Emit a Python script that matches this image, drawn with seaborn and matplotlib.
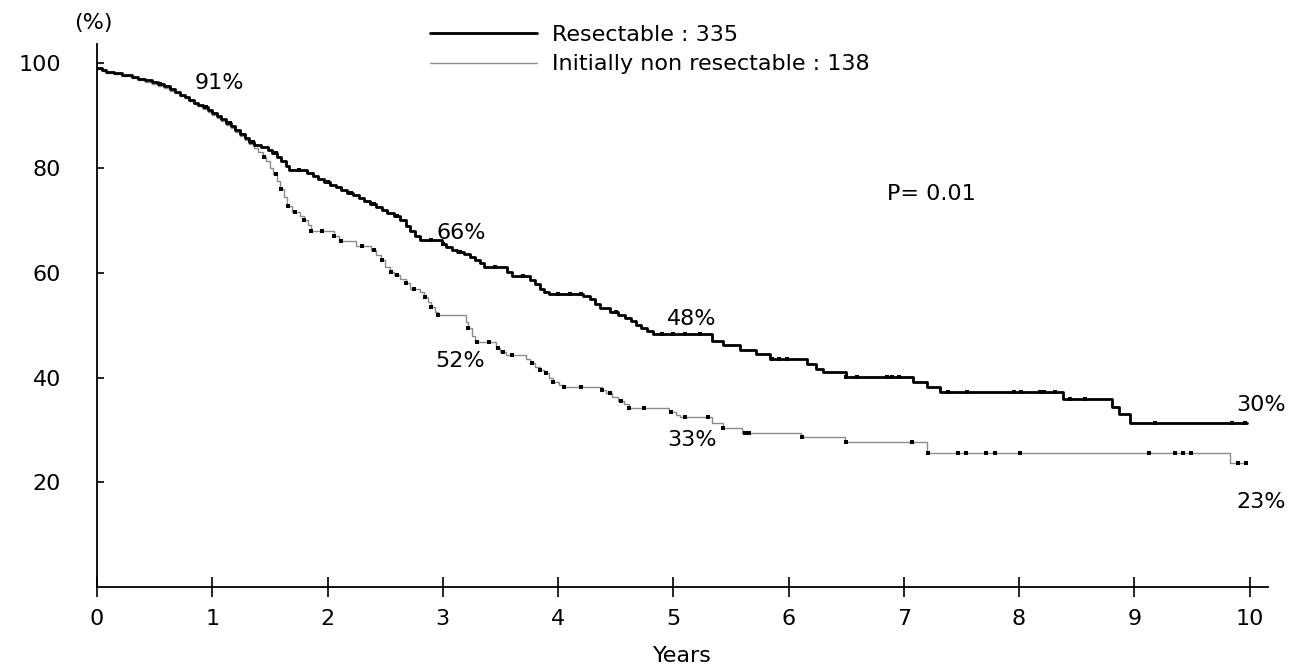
import numpy as np
import pandas as pd
import matplotlib
matplotlib.use("Agg")
import matplotlib.pyplot as plt
import seaborn as sns

# ---------------- data ----------------
res_t = [0.00, 0.04, 0.08, 0.15, 0.22, 0.30, 0.36, 0.42, 0.48, 0.53, 0.58, 0.63,
         0.68, 0.72, 0.76, 0.80, 0.84, 0.88, 0.92, 0.96, 1.00, 1.04, 1.08, 1.12,
         1.16, 1.20, 1.24, 1.28, 1.32, 1.36, 1.42, 1.48, 1.52, 1.56, 1.60, 1.64,
         1.67, 1.82, 1.87, 1.92, 1.97, 2.02, 2.07, 2.12, 2.17, 2.22, 2.27, 2.32,
         2.37, 2.42, 2.47, 2.52, 2.58, 2.63, 2.68, 2.72, 2.76, 2.80, 2.99, 3.03,
         3.08, 3.12, 3.18, 3.24, 3.28, 3.32, 3.36, 3.56, 3.60, 3.76, 3.80, 3.84,
         3.88, 3.92, 4.22, 4.28, 4.32, 4.36, 4.45, 4.52, 4.58, 4.63, 4.68, 4.72,
         4.77, 4.82, 5.34, 5.43, 5.58, 5.72, 5.84, 6.16, 6.24, 6.30, 6.50, 7.08,
         7.20, 7.31, 8.38, 8.81, 8.87, 8.96, 9.98]
res_s = [99.2, 98.8, 98.4, 98.1, 97.8, 97.4, 97.1, 96.8, 96.4, 96.0, 95.6, 95.1,
         94.6, 94.0, 93.5, 93.0, 92.5, 92.0, 91.6, 91.1, 90.5, 89.9, 89.3, 88.6,
         88.0, 87.3, 86.6, 85.8, 85.0, 84.4, 84.0, 83.5, 82.9, 82.2, 81.3, 80.4,
         79.6, 79.0, 78.4, 77.9, 77.3, 76.8, 76.3, 75.8, 75.3, 74.8, 74.3, 73.8,
         73.2, 72.6, 72.0, 71.5, 70.8, 70.0, 69.0, 68.0, 67.0, 66.2, 65.5, 65.0,
         64.4, 63.9, 63.5, 63.1, 62.5, 61.9, 61.1, 60.2, 59.4, 58.6, 57.8, 57.0,
         56.4, 56.0, 55.6, 55.0, 54.0, 53.2, 52.6, 52.0, 51.4, 50.8, 50.1, 49.5,
         48.9, 48.3, 47.0, 46.3, 45.2, 44.5, 43.5, 42.6, 41.6, 41.0, 40.1, 39.1,
         38.2, 37.2, 35.9, 34.4, 33.0, 31.3, 31.3]
res_censor = [0.55, 0.95, 1.15, 1.35, 1.55, 1.75, 2.00, 2.20, 2.40, 2.60, 2.90,
              3.00, 3.15, 3.45, 3.70, 4.00, 4.10, 4.20, 4.50, 4.90, 5.00, 5.10,
              5.23, 5.86, 5.92, 5.99, 6.50, 6.59, 6.85, 6.90, 6.96, 7.38, 7.55,
              7.96, 8.02, 8.18, 8.22, 8.31, 8.44, 8.57, 9.18, 9.85, 9.96]

non_t = [0.00, 0.04, 0.08, 0.15, 0.22, 0.30, 0.36, 0.42, 0.48, 0.53, 0.58, 0.63,
         0.68, 0.72, 0.76, 0.80, 0.84, 0.88, 0.92, 0.96, 1.00, 1.04, 1.08, 1.12,
         1.16, 1.20, 1.24, 1.28, 1.32, 1.36, 1.40, 1.44, 1.47, 1.50, 1.53, 1.56,
         1.59, 1.62, 1.65, 1.69, 1.76, 1.80, 1.83, 1.86, 2.06, 2.10, 2.25, 2.38,
         2.42, 2.46, 2.50, 2.54, 2.58, 2.63, 2.68, 2.72, 2.80, 2.84, 2.87, 2.90,
         2.93, 2.96, 3.20, 3.22, 3.25, 3.28, 3.46, 3.50, 3.55, 3.72, 3.76, 3.80,
         3.84, 3.88, 3.92, 3.96, 4.01, 4.05, 4.38, 4.42, 4.47, 4.52, 4.57, 4.62,
         4.96, 5.02, 5.06, 5.34, 5.43, 5.60, 6.11, 6.49, 7.20, 9.83, 9.97]
non_s = [99.0, 98.6, 98.2, 97.9, 97.6, 97.2, 96.9, 96.5, 96.1, 95.7, 95.3, 94.8,
         94.3, 93.8, 93.3, 92.8, 92.3, 91.8, 91.3, 90.8, 90.2, 89.6, 89.0, 88.3,
         87.6, 86.9, 86.1, 85.4, 84.6, 83.8, 83.0, 82.2, 81.3, 80.0, 78.8, 77.5,
         76.0, 74.4, 72.8, 71.6, 70.8, 70.0, 69.2, 68.0, 67.0, 66.0, 65.2, 64.4,
         63.4, 62.4, 61.2, 60.2, 59.6, 58.8, 58.0, 57.0, 56.4, 55.4, 54.4, 53.4,
         52.6, 51.9, 50.6, 49.4, 48.0, 46.8, 45.6, 44.8, 44.3, 43.6, 42.8, 42.0,
         41.4, 40.8, 40.0, 39.2, 38.6, 38.2, 37.6, 37.0, 36.2, 35.6, 34.9, 34.2,
         33.4, 32.8, 32.5, 31.4, 30.3, 29.5, 28.6, 27.6, 25.5, 23.7, 23.7]
non_censor = [1.45, 1.55, 1.60, 1.66, 1.72, 1.80, 1.86, 1.95, 2.06, 2.12, 2.30,
              2.40, 2.47, 2.55, 2.60, 2.68, 2.75, 2.85, 2.90, 2.96, 3.22, 3.30,
              3.40, 3.48, 3.52, 3.60, 3.77, 3.84, 3.90, 3.96, 4.05, 4.20, 4.38,
              4.45, 4.55, 4.62, 4.75, 4.98, 5.10, 5.30, 5.43, 5.62, 5.66, 6.12,
              6.50, 7.07, 7.21, 7.47, 7.54, 7.71, 7.79, 8.01, 9.13, 9.35, 9.42,
              9.49, 9.90, 9.97]

legend_labels = ["Resectable : 335", "Initially non resectable : 138"]
x_ticks = [0, 1, 2, 3, 4, 5, 6, 7, 8, 9, 10]
y_ticks = [20, 40, 60, 80, 100]
annot_text = ["91%", "66%", "48%", "30%", "52%", "33%", "23%", "P= 0.01"]
annot_x = [1.06, 3.16, 5.16, 10.10, 3.15, 5.16, 10.10, 7.24]
annot_y = [96.2, 67.6, 51.2, 34.7, 43.2, 28.1, 16.3, 75.0]

# ---------------- style ----------------
sns.set_style("ticks")
plt.rcParams["font.family"] = ["DejaVu Sans"]
plt.rcParams["text.color"] = "black"
plt.rcParams["axes.labelcolor"] = "black"
plt.rcParams["xtick.color"] = "black"
plt.rcParams["ytick.color"] = "black"
FS = 16

def step_value(times, surv, q):
    idx = np.searchsorted(np.asarray(times), np.asarray(q), side="right") - 1
    return np.asarray(surv)[np.clip(idx, 0, len(surv) - 1)]

df_res = pd.DataFrame({"t": res_t, "s": res_s})
df_non = pd.DataFrame({"t": non_t, "s": non_s})
df_rc = pd.DataFrame({"t": res_censor, "s": step_value(res_t, res_s, res_censor)})
df_nc = pd.DataFrame({"t": non_censor, "s": step_value(non_t, non_s, non_censor)})

fig = plt.figure(figsize=(12.97, 6.70), dpi=100)
ax = fig.add_axes([97 / 1297, 83 / 670, 1171 / 1297, 543 / 670])

sns.lineplot(data=df_non, x="t", y="s", ax=ax, estimator=None, sort=False,
             drawstyle="steps-post", color="#8c8c8c", linewidth=1.0,
             label=legend_labels[1])
sns.lineplot(data=df_res, x="t", y="s", ax=ax, estimator=None, sort=False,
             drawstyle="steps-post", color="black", linewidth=2.0,
             label=legend_labels[0])
sns.scatterplot(data=df_nc, x="t", y="s", ax=ax, marker="s", s=12,
                color="black", linewidth=0, zorder=3)
sns.scatterplot(data=df_rc, x="t", y="s", ax=ax, marker="s", s=10,
                color="black", linewidth=0, zorder=3)

ax.set_xlim(0, 10.16)
ax.set_ylim(0, 103.7)
ax.set_xticks(x_ticks)
ax.set_yticks(y_ticks)
ax.set_xticklabels([str(v) for v in x_ticks], fontsize=FS)
ax.set_yticklabels([str(v) for v in y_ticks], fontsize=FS)
ax.tick_params(axis="x", direction="inout", length=14, width=1.2, pad=9,
               colors="black")
ax.tick_params(axis="y", direction="in", length=5, width=1.2, pad=26,
               colors="black")
for sp in ["left", "bottom"]:
    ax.spines[sp].set_linewidth(1.3)
    ax.spines[sp].set_color("black")
sns.despine(ax=ax)
ax.set_xlabel("Years", fontsize=FS, labelpad=12, color="black")
ax.set_ylabel("")

for txt, xx, yy in zip(annot_text, annot_x, annot_y):
    ax.text(xx, yy, txt, fontsize=FS, ha="center", va="center", color="black")

fig.text(93 / 1297, 1 - 23 / 670, "(%)", fontsize=FS, ha="center",
         va="center", color="black")

handles, labels = ax.get_legend_handles_labels()
order = [labels.index(l) for l in legend_labels]
leg = ax.legend([handles[i] for i in order], [labels[i] for i in order],
                loc="upper left", bbox_to_anchor=(430 / 1297, 1 - 25 / 670),
                bbox_transform=fig.transFigure, frameon=False, fontsize=FS,
                borderpad=0, borderaxespad=0, handlelength=4.8,
                handletextpad=0.7, labelspacing=0.42)
for t in leg.get_texts():
    t.set_color("black")

fig.savefig("out.png", dpi=100)
